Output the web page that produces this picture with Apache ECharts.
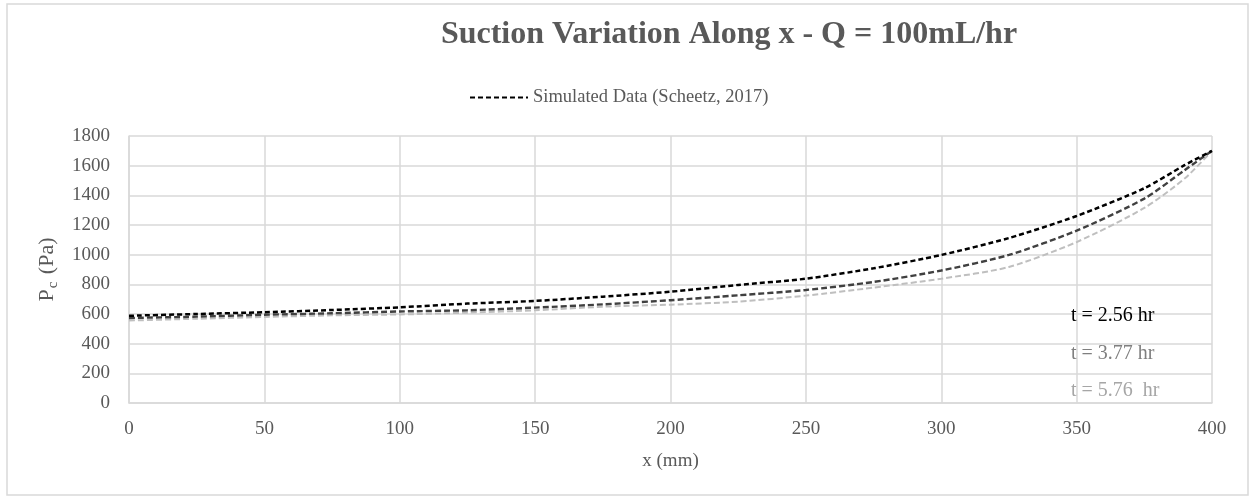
<!DOCTYPE html>
<html>
<head>
<meta charset="utf-8">
<script src="https://cdn.jsdelivr.net/npm/echarts@6/dist/echarts.min.js"></script>
<style>
  html, body { margin: 0; padding: 0; background: #ffffff; }
  #chart { width: 1252px; height: 498px; }
</style>
</head>
<body>
<div id="chart"></div>
<script>
// Position along the column (mm)
const xPositions = [0, 25, 50, 75, 100, 125, 150, 175, 200, 225, 250, 275, 300, 325, 350, 375, 390, 400];
// Capillary suction Pc (Pa) at three elapsed times
const suction_t256 = [588, 600, 612, 627, 645, 670, 688, 717, 750, 796, 838, 908, 998, 1112, 1261, 1448, 1605, 1700];
const suction_t377 = [573, 582, 595, 605, 617, 625, 643, 665, 693, 726, 762, 816, 893, 998, 1162, 1378, 1571, 1700];
const suction_t576 = [556, 568, 580, 591, 597, 609, 625, 649, 663, 683, 724, 778, 838, 917, 1085, 1315, 1515, 1700];

const timeLabels = ['t = 2.56 hr', 't = 3.77 hr', 't = 5.76  hr'];
const legendName = 'Simulated Data (Scheetz, 2017)';

const serif = '"Liberation Serif", "Times New Roman", serif';
const pair = (ys) => xPositions.map((x, i) => [x, ys[i]]);

const chart = echarts.init(document.getElementById('chart'), null, { renderer: 'canvas' });

chart.setOption({
  backgroundColor: '#ffffff',
  animation: false,
  title: {
    text: 'Suction Variation Along x - Q = 100mL/hr',
    left: 724,
    textAlign: 'center',
    top: 14,
    textStyle: { fontFamily: serif, fontSize: 32, fontWeight: 'bold', color: '#595959' }
  },
  legend: {
    data: [legendName],
    left: 464,
    top: 83,
    itemWidth: 58,
    itemHeight: 14,
    itemGap: 6,
    itemStyle: { color: 'rgba(0,0,0,0)', borderWidth: 0 },
    textStyle: { fontFamily: serif, fontSize: 18.5, color: '#595959' }
  },
  grid: { left: 129, right: 40, top: 136, bottom: 95, containLabel: false },
  xAxis: {
    type: 'value',
    min: 0, max: 400, interval: 50,
    name: 'x (mm)',
    nameLocation: 'middle',
    nameGap: 49,
    nameTextStyle: { fontFamily: serif, fontSize: 19, color: '#595959' },
    axisLine: { show: true, lineStyle: { color: '#d9d9d9', width: 1.5 } },
    axisTick: { show: false },
    axisLabel: { fontFamily: serif, fontSize: 19, color: '#595959', margin: 17 },
    splitLine: { show: true, lineStyle: { color: '#d9d9d9', width: 1.5 } }
  },
  yAxis: {
    type: 'value',
    min: 0, max: 1800, interval: 200,
    name: '{m|P}{s|c}{m| (Pa)}',
    nameLocation: 'middle',
    nameGap: 70,
    nameTextStyle: {
      fontFamily: serif, color: '#595959',
      rich: {
        m: { fontFamily: serif, fontSize: 22, color: '#595959', lineHeight: 24, verticalAlign: 'middle' },
        s: { fontFamily: serif, fontSize: 15, color: '#595959', lineHeight: 14, verticalAlign: 'top', padding: [11, 2, 0, 1] }
      }
    },
    axisLine: { show: true, lineStyle: { color: '#d9d9d9', width: 1.5 } },
    axisTick: { show: false },
    axisLabel: { fontFamily: serif, fontSize: 19, color: '#595959', margin: 19, formatter: (v) => String(v) },
    splitLine: { show: true, lineStyle: { color: '#d9d9d9', width: 1.5 } }
  },
  series: [
    {
      name: 'light', type: 'line', data: pair(suction_t576), showSymbol: false, symbol: 'none',
      smooth: 0.25, silent: true,
      lineStyle: { color: '#bfbfbf', width: 2, type: [6, 3] }
    },
    {
      name: 'mid', type: 'line', data: pair(suction_t377), showSymbol: false, symbol: 'none',
      smooth: 0.25, silent: true,
      lineStyle: { color: '#404040', width: 2.4, type: [6, 3] }
    },
    {
      name: legendName, type: 'line', data: pair(suction_t256), showSymbol: false, symbol: 'none',
      smooth: 0.25, silent: true, z: 3,
      itemStyle: { color: '#000000' },
      lineStyle: { color: '#000000', width: 2.5, type: [5, 3] }
    }
  ],
  graphic: [
    {
      type: 'rect', silent: true, z: -10,
      shape: { x: 7, y: 4, width: 1241, height: 491 },
      style: { fill: 'none', stroke: '#d9d9d9', lineWidth: 1.5 }
    },
    {
      type: 'text', left: 1071, top: 306, z: 50,
      style: { text: timeLabels[0], fontFamily: serif, fontSize: 20, fill: '#000000' }
    },
    {
      type: 'text', left: 1071, top: 344, z: 50,
      style: { text: timeLabels[1], fontFamily: serif, fontSize: 20, fill: '#7f7f7f' }
    },
    {
      type: 'text', left: 1071, top: 381, z: 50,
      style: { text: timeLabels[2], fontFamily: serif, fontSize: 20, fill: '#a6a6a6' }
    }
  ]
});
</script>
</body>
</html>
